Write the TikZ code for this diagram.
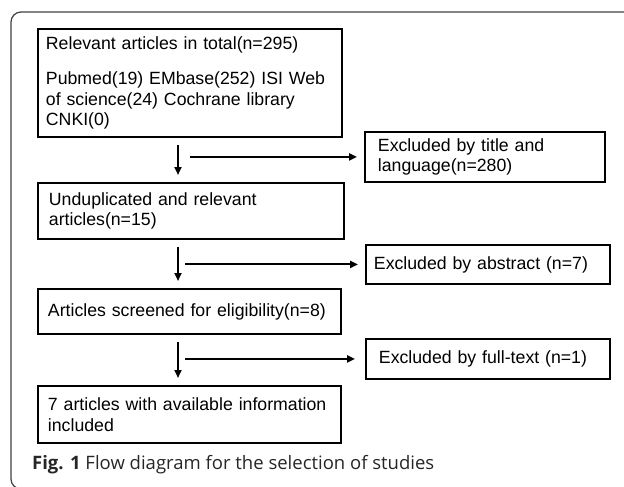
\documentclass[tikz,border=0pt]{standalone}
\usepackage{fontspec}
\setmainfont{Liberation Sans}
\newfontfamily\capfont{Open Sans}
\usetikzlibrary{arrows.meta,calc}

\tikzset{
  box/.style={draw, line width=1.9pt, anchor=north west, align=left,
    inner ysep=4pt, font=\fontsize{17.7}{20.5}\selectfont},
  arr/.style={-{Triangle[length=8pt,width=7pt]}, line width=2pt}
}

\begin{document}
\begin{tikzpicture}[x=1pt,y=-1pt]
                \useasboundingbox (0,0) rectangle (624,487);
                % outer frame, open to the right
                \draw [line width=1.2pt, black!75, rounded corners=10pt] (640,12)--(11,12)--(11,489)--(640,489);
                \node [box, inner xsep=8pt, text width=288pt, minimum height=108pt] (total) at (37,28)
                    {Relevant articles in total(n=295)\\[15pt]
                     Pubmed(19) EMbase(252) ISI Web\\
                     of science(24) Cochrane library\\
                     CNKI(0)};
                \node [box, inner xsep=13pt, text width=214pt, minimum height=50pt] (title) at (364,131)
                    {Excluded by title and\\ language(n=280)};
                \node [box, inner xsep=11pt, text width=284pt, minimum height=56pt] (undup) at (37,182)
                    {Unduplicated and relevant\\ articles(n=15)};
                \node [box, inner xsep=8pt, text width=228pt, minimum height=39pt] (abstr) at (365,244)
                    {Excluded by abstract (n=7)};
                \node [box, inner xsep=10pt, text width=283pt, minimum height=45pt] (screen) at (37,288)
                    {Articles screened for eligibility(n=8)};
                \node [box, inner xsep=13pt, text width=218pt, minimum height=40pt] (full) at (365,338)
                    {Excluded by full-text (n=1)};
                \node [box, inner xsep=10pt, text width=283pt, minimum height=57pt] (incl) at (37,385)
                    {7 articles with available information\\ included};
                \node [anchor=west, inner sep=0pt, text=black!85, font=\capfont\fontsize{18.5}{20}\selectfont] (cap) at (32,465)
                    {\textbf{Fig. 1} Flow diagram for the selection of studies};
                % arrows between the boxes
                \coordinate (d1) at ($(total.south west)+(141,7)$);
                \coordinate (e1) at ($(undup.north west)+(141,-7)$);
                \draw [arr] (d1) -- (e1);
                \draw [arr] ($(d1 |- title.west)+(12,0)$) -- ([xshift=-7pt]title.west);
                \coordinate (d2) at ($(undup.south west)+(141,7)$);
                \coordinate (e2) at ($(screen.north west)+(141,-7)$);
                \draw [arr] (d2) -- (e2);
                \draw [arr] ($(d2 |- abstr.west)+(7,0)$) -- ([xshift=-7pt]abstr.west);
                \coordinate (d3) at ($(screen.south west)+(141,7)$);
                \coordinate (e3) at ($(incl.north west)+(141,-7)$);
                \draw [arr] (d3) -- (e3);
                \draw [arr] ($(d3 |- full.west)+(7,0)$) -- ([xshift=-10pt]full.west);
            \end{tikzpicture}
\end{document}
